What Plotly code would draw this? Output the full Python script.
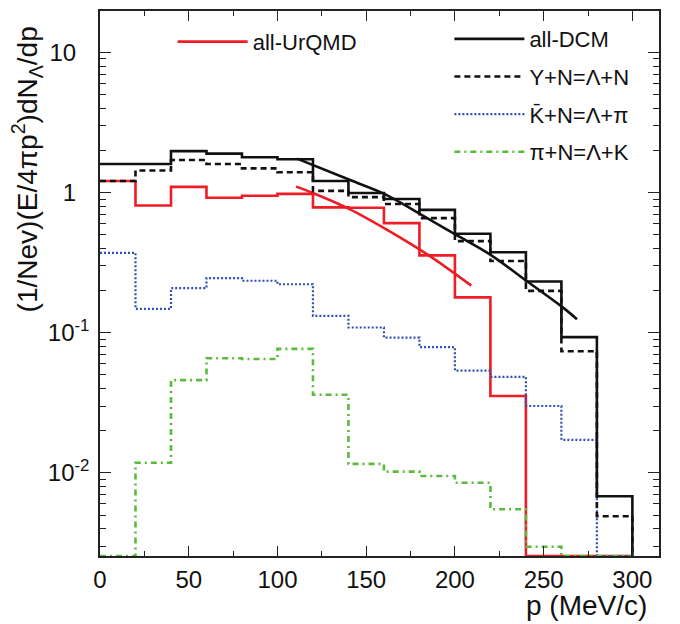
import math
import plotly.graph_objects as go

# ---------------- data ----------------
p_edges = [0, 20, 40, 60, 80, 100, 120, 140, 160, 180, 200, 220, 240, 260, 280, 300]

urqmd_all = [1.21, 0.81, 1.10, 0.92, 0.95, 0.98, 0.785, 0.78, 0.606, 0.357, 0.179, 0.0354, 0, 0, 0]
dcm_all = [1.60, 1.60, 1.98, 1.90, 1.79, 1.73, 1.21, 0.995, 0.90, 0.754, 0.509, 0.376, 0.232, 0.093, 0.0068]
dcm_YN = [1.21, 1.44, 1.71, 1.60, 1.49, 1.40, 1.03, 0.93, 0.83, 0.658, 0.451, 0.325, 0.199, 0.0738, 0.0049]
dcm_KbarN = [0.372, 0.148, 0.208, 0.2455, 0.235, 0.222, 0.132, 0.109, 0.0922, 0.0789, 0.0536, 0.0485, 0.030, 0.0172, 0]
dcm_piN = [0, 0.0118, 0.0459, 0.0658, 0.065, 0.0767, 0.0361, 0.0116, 0.0102, 0.0095, 0.0085, 0.0055, 0.00297, 0, 0]

dcm_fit_p = [111, 140.6, 160.2, 180.5, 200.2, 219.9, 240.6, 260.4, 268.8]
dcm_fit_y = [1.75, 1.235, 0.98, 0.702, 0.503, 0.361, 0.233, 0.153, 0.125]
urqmd_fit_p = [110.5, 120.3, 140.6, 163.5, 186.1, 209.2]
urqmd_fit_y = [1.104, 0.99, 0.763, 0.527, 0.351, 0.217]

y_ticks = [0.01, 0.1, 1, 10]
y_ticktext = ["10<sup>-2</sup>", "10<sup>-1</sup>", "1\u00a0\u00a0", "10\u00a0\u00a0"]
x_ticks = [0, 50, 100, 150, 200, 250, 300]

Y_MIN = 0.00255
Y_MAX = 19.8
X_MAX = 315

RED = "#ee1c24"
BLACK = "#111111"
BLUE = "#2e4fb4"
GREEN = "#5bbb3c"
FONT = "Liberation Sans, Arial, sans-serif"


def step_y(vals):
    v = [x if x > 0 else Y_MIN for x in vals]
    return v + [Y_MIN]


fig = go.Figure()

fig.add_trace(go.Scatter(x=p_edges, y=step_y(urqmd_all), mode="lines", line_shape="hv",
                         line=dict(color=RED, width=2.6), name="all-UrQMD",
                         legend="legend", legendgroup="a"))
fig.add_trace(go.Scatter(x=urqmd_fit_p, y=urqmd_fit_y, mode="lines", line_shape="spline",
                         line=dict(color=RED, width=2.6), showlegend=False))
fig.add_trace(go.Scatter(x=p_edges, y=step_y(dcm_KbarN), mode="lines", line_shape="hv",
                         line=dict(color=BLUE, width=2.2, dash="2px,2px"),
                         name="K\u0304+N=\u039b+\u03c0", legend="legend2", legendgroup="c",
                         legendrank=3))
fig.add_trace(go.Scatter(x=p_edges, y=step_y(dcm_piN), mode="lines", line_shape="hv",
                         line=dict(color=GREEN, width=2.6, dash="6px,4px,2px,4px"),
                         name="\u03c0+N=\u039b+K", legend="legend2", legendgroup="d",
                         legendrank=4))
fig.add_trace(go.Scatter(x=p_edges, y=step_y(dcm_YN), mode="lines", line_shape="hv",
                         line=dict(color=BLACK, width=2.6, dash="6px,4px"),
                         name="Y+N=\u039b+N", legend="legend2", legendgroup="b",
                         legendrank=2))
fig.add_trace(go.Scatter(x=p_edges, y=step_y(dcm_all), mode="lines", line_shape="hv",
                         line=dict(color=BLACK, width=2.6), name="all-DCM",
                         legend="legend2", legendgroup="a2", legendrank=1))
fig.add_trace(go.Scatter(x=dcm_fit_p, y=dcm_fit_y, mode="lines", line_shape="spline",
                         line=dict(color=BLACK, width=2.6), showlegend=False))

minor_y = [m * 10 ** k for k in range(-3, 2) for m in range(2, 10)
           if Y_MIN < m * 10 ** k < Y_MAX]

# the page body adds an 8px offset, so the figure is drawn 8px smaller
fig.update_layout(
    width=672, height=616,
    margin=dict(l=92, r=21, t=1, b=68),
    paper_bgcolor="white", plot_bgcolor="white",
    font=dict(family=FONT, size=22, color="#111"),
    xaxis=dict(range=[0, X_MAX], showline=True, linecolor="#222", linewidth=1.5,
               mirror="ticks", ticks="inside", ticklen=10, tickwidth=1.3, tickcolor="#222",
               tickvals=x_ticks, tickfont=dict(size=24), ticklabelstandoff=1,
               showgrid=False, zeroline=False,
               minor=dict(tickvals=[25, 75, 125, 175, 225, 275], ticks="inside",
                          ticklen=5, tickwidth=1.3, tickcolor="#222", showgrid=False)),
    yaxis=dict(type="log", range=[math.log10(Y_MIN), math.log10(Y_MAX)],
               showline=True, linecolor="#222", linewidth=1.5,
               mirror="ticks", ticks="inside", ticklen=11, tickwidth=1.3, tickcolor="#222",
               tickvals=y_ticks, ticktext=y_ticktext, tickfont=dict(size=24),
               ticklabelstandoff=4, showgrid=False, zeroline=False,
               minor=dict(tickvals=minor_y, ticks="inside", ticklen=6, tickwidth=1.2,
                          tickcolor="#222", showgrid=False)),
    legend=dict(x=0.13, y=0.982, xanchor="left", yanchor="top", bgcolor="rgba(0,0,0,0)",
                font=dict(size=22), itemwidth=70),
    legend2=dict(x=0.625, y=0.987, xanchor="left", yanchor="top", bgcolor="rgba(0,0,0,0)",
                 font=dict(size=22), itemwidth=70, tracegroupgap=6, traceorder="grouped"),
    annotations=[
        dict(text="(1/Nev)(E/4\u03c0p<sup>2</sup>)dN<sub>\u039b</sub>/dp", textangle=-90,
             xref="paper", yref="paper", x=-0.13, y=0.71, xanchor="center", yanchor="middle",
             showarrow=False, font=dict(size=28)),
        dict(text="p (MeV/c)", xref="paper", yref="paper", x=0.87, y=-0.09,
             xanchor="center", yanchor="middle", showarrow=False, font=dict(size=28)),
    ],
)

fig.write_html("out.html")
